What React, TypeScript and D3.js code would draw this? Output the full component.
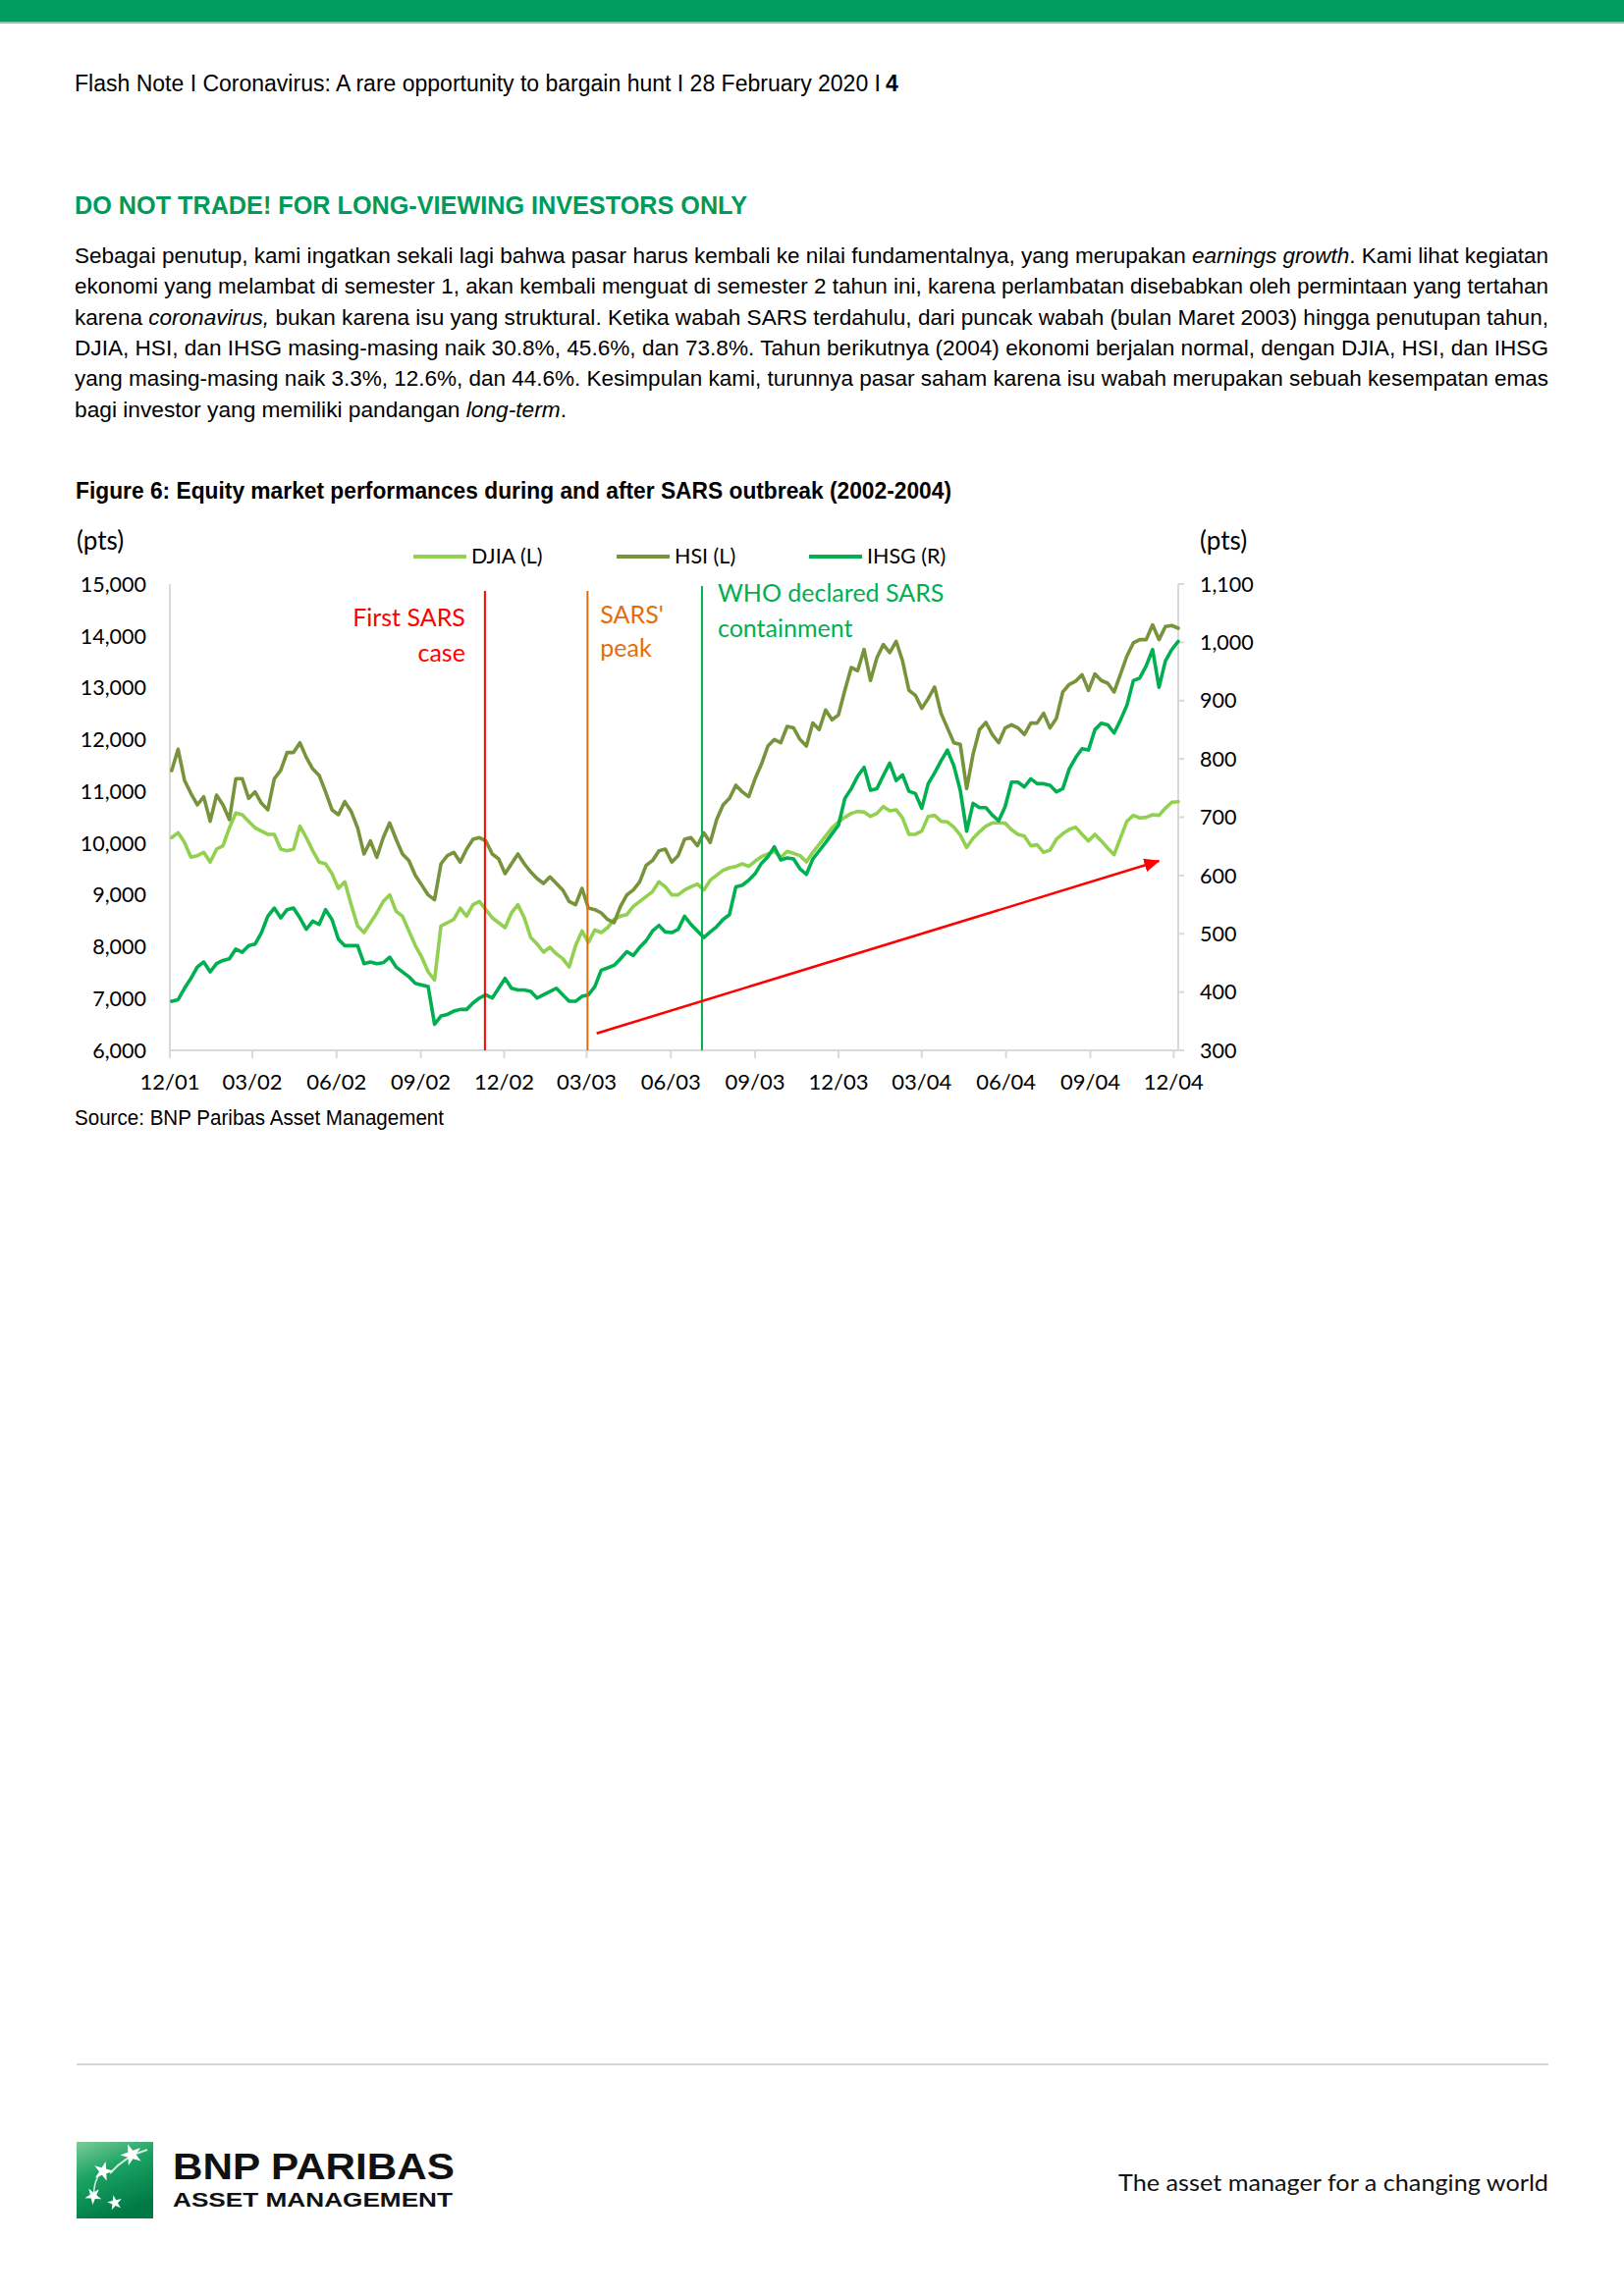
import React from 'react';
import * as d3 from 'd3';

// weekly observations, first one on Monday 3 Dec 2001
const firstWeek = new Date(2001, 11, 3);
const weeks = d3.range(158).map((i) => d3.timeDay.offset(firstWeek, 7 * i));

// DJIA (left axis, pts)
const djia = [
  10106, 10200, 10011, 9727, 9758, 9821, 9632, 9884, 9948, 10295,
  10579, 10548, 10421, 10295, 10232, 10169, 10169, 9884, 9853, 9884,
  10327, 10106, 9853, 9632, 9600, 9411, 9126, 9253, 8811, 8400,
  8274, 8463, 8653, 8874, 9000, 8684, 8589, 8305, 8021, 7800,
  7516, 7358, 8400, 8463, 8526, 8747, 8589, 8811, 8874, 8716,
  8558, 8463, 8368, 8653, 8811, 8558, 8179, 8053, 7895, 7989,
  7863, 7768, 7610, 8021, 8305, 8084, 8324, 8274, 8368, 8526,
  8589, 8621, 8779, 8874, 8969, 9063, 9253, 9158, 9000, 9000,
  9095, 9158, 9209, 9095, 9284, 9379, 9474, 9524, 9550, 9600,
  9550, 9651, 9739, 9790, 9840, 9727, 9840, 9802, 9758, 9638,
  9821, 9979, 10137, 10295, 10409, 10497, 10573, 10611, 10598, 10516,
  10573, 10706, 10624, 10643, 10485, 10169, 10169, 10232, 10516, 10535,
  10421, 10409, 10308, 10156, 9916, 10093, 10219, 10327, 10390, 10390,
  10384, 10257, 10169, 10137, 9948, 9967, 9821, 9866, 10074, 10181,
  10263, 10308, 10169, 10042, 10169, 10042, 9903, 9777, 10106, 10421,
  10535, 10485, 10497, 10548, 10535, 10674, 10788, 10800,
];

// HSI (left axis, pts)
const hsi = [
  11401, 11811, 11211, 10958, 10737, 10895, 10421, 10927, 10737, 10453,
  11243, 11243, 10864, 10990, 10769, 10643, 11243, 11401, 11748, 11748,
  11937, 11653, 11432, 11306, 10990, 10643, 10548, 10800, 10611, 10295,
  9790, 10042, 9727, 10106, 10390, 10074, 9790, 9663, 9379, 9190,
  9000, 8905, 9600, 9758, 9821, 9632, 9884, 10074, 10106, 10042,
  9790, 9695, 9411, 9600, 9790, 9600, 9442, 9316, 9221, 9348,
  9221, 9095, 8874, 8811, 9126, 8747, 8716, 8653, 8526, 8463,
  8779, 9000, 9095, 9253, 9569, 9663, 9853, 9884, 9632, 9758,
  10074, 10106, 9948, 10200, 10011, 10453, 10737, 10864, 11116, 10990,
  10895, 11243, 11527, 11874, 12001, 11937, 12253, 12222, 12001, 11874,
  12317, 12190, 12569, 12380, 12474, 12948, 13390, 13327, 13738, 13138,
  13580, 13833, 13675, 13896, 13517, 12948, 12853, 12601, 12790, 13011,
  12506, 12222, 11937, 11906, 11053, 11716, 12190, 12329, 12095, 11937,
  12222, 12285, 12222, 12095, 12317, 12317, 12506, 12222, 12411, 12917,
  13062, 13125, 13251, 12948, 13264, 13138, 13087, 12917, 13264, 13612,
  13864, 13927, 13927, 14212, 13927, 14180, 14199, 14148,
];

// IHSG (right axis, pts)
const ihsg = [
  384.1, 386.9, 406.5, 423.4, 443.0, 451.5, 434.6, 448.7, 454.3, 457.1,
  473.9, 468.3, 479.5, 482.3, 502.0, 530.1, 544.1, 527.3, 541.3, 544.1,
  527.3, 507.6, 521.6, 516.0, 541.3, 524.4, 490.8, 479.5, 479.5, 479.5,
  448.7, 451.5, 448.7, 450.3, 459.9, 443.0, 434.6, 426.2, 415.0, 412.2,
  409.4, 344.8, 358.8, 361.6, 367.3, 370.1, 370.1, 381.3, 389.7, 395.3,
  389.7, 406.5, 423.4, 406.5, 403.7, 403.7, 400.9, 389.7, 395.3, 400.9,
  406.5, 395.3, 384.1, 384.1, 392.5, 395.3, 409.4, 437.4, 441.4, 445.8,
  457.1, 469.4, 462.7, 476.7, 488.0, 504.8, 514.3, 503.1, 502.0, 507.6,
  530.1, 516.0, 504.8, 493.6, 503.1, 512.1, 524.4, 532.9, 580.6, 583.4,
  591.8, 603.0, 621.0, 632.2, 649.1, 626.6, 630.0, 628.3, 611.5, 601.9,
  628.3, 642.3, 656.4, 671.5, 686.1, 732.2, 749.0, 770.3, 785.5, 746.2,
  749.0, 771.5, 792.8, 763.0, 772.6, 744.5, 740.6, 715.3, 757.4, 776.0,
  796.7, 815.2, 788.3, 746.2, 676.0, 723.7, 716.4, 716.4, 703.5, 694.0,
  718.1, 760.2, 760.2, 751.8, 765.8, 757.4, 757.4, 754.6, 743.4, 749.0,
  782.7, 802.3, 817.5, 815.2, 850.1, 861.3, 858.5, 844.4, 866.9, 892.2,
  934.3, 938.8, 959.5, 987.6, 923.0, 967.9, 987.6, 1001.6,
];

const seriesNames = ['DJIA (L)', 'HSI (L)', 'IHSG (R)'];
const leftTicks = d3.range(6000, 15001, 1000);
const rightTicks = d3.range(300, 1101, 100);

const eventDates = ['2002-11-10', '2003-03-02', '2003-07-05'];
const eventLabels = [['First SARS', 'case'], ["SARS'", 'peak'], ['WHO declared SARS', 'containment']];

// trend arrow, right-axis values
const arrowFrom = { date: '2003-03-12', value: 329 };
const arrowTo = { date: '2004-11-15', value: 625 };

const paragraph = [
  [{ t: 'Sebagai penutup, kami ingatkan sekali lagi bahwa pasar harus kembali ke nilai fundamentalnya, yang merupakan ' }, { t: 'earnings growth', i: true }, { t: '. Kami lihat kegiatan' }],
  [{ t: 'ekonomi yang melambat di semester 1, akan kembali menguat di semester 2 tahun ini, karena perlambatan disebabkan oleh permintaan yang tertahan' }],
  [{ t: 'karena ' }, { t: 'coronavirus,', i: true }, { t: ' bukan karena isu yang struktural. Ketika wabah SARS terdahulu, dari puncak wabah (bulan Maret 2003) hingga penutupan tahun,' }],
  [{ t: 'DJIA, HSI, dan IHSG masing-masing naik 30.8%, 45.6%, dan 73.8%. Tahun berikutnya (2004) ekonomi berjalan normal, dengan DJIA, HSI, dan IHSG' }],
  [{ t: 'yang masing-masing naik 3.3%, 12.6%, dan 44.6%. Kesimpulan kami, turunnya pasar saham karena isu wabah merupakan sebuah kesempatan emas' }],
  [{ t: 'bagi investor yang memiliki pandangan ' }, { t: 'long-term', i: true }, { t: '.' }],
];

const W = 1654;
const H = 2339;
const bodyFont = "'Liberation Sans Narrow', 'Arial Narrow', 'Liberation Sans', Arial, sans-serif";
const chartFont = "Lato, Carlito, 'Noto Sans', sans-serif";
const colors = { djia: '#92d050', hsi: '#77933c', ihsg: '#00b050' };
const eventColors = ['#ff0000', '#e46c0a', '#00b050'];
const brandGreen = '#009b5f';

const App: React.FC = () => {
  const parse = d3.timeParse('%Y-%m-%d');
  const plot = { left: 173, right: 1200, top: 595, bottom: 1070 };

  const x = d3
    .scaleTime()
    .domain([new Date(2001, 11, 1), new Date(2004, 11, 6)])
    .range([plot.left, plot.right]);
  const yL = d3.scaleLinear().domain([6000, 15000]).range([plot.bottom, plot.top]);
  const yR = d3.scaleLinear().domain([300, 1100]).range([plot.bottom, plot.top]);

  const tickDates = d3.timeMonth.range(new Date(2001, 11, 1), new Date(2004, 11, 2), 3);
  const fmtMonth = d3.timeFormat('%m/%y');
  const fmtNum = d3.format(',');

  const lineL = d3
    .line<number>()
    .x((_, i) => x(weeks[i]))
    .y((d) => yL(d));
  const lineR = d3
    .line<number>()
    .x((_, i) => x(weeks[i]))
    .y((d) => yR(d));

  const series = [
    { d: lineL(djia), c: colors.djia },
    { d: lineL(hsi), c: colors.hsi },
    { d: lineR(ihsg), c: colors.ihsg },
  ];

  const legendX = [421, 628, 824];
  const legendColors = [colors.djia, colors.hsi, colors.ihsg];

  const ax1 = x(parse(arrowFrom.date) as Date);
  const ay1 = yR(arrowFrom.value);
  const ax2 = x(parse(arrowTo.date) as Date);
  const ay2 = yR(arrowTo.value);

  const star = d3.symbol().type(d3.symbolStar);

  return (
    <svg
      width={W}
      height={H}
      viewBox={`0 0 ${W} ${H}`}
      style={{ position: 'absolute', left: 0, top: 0, background: '#fff' }}
    >
      <defs>
        <marker id="arrowHead" viewBox="0 0 16 14" refX="15" refY="7" markerWidth="16" markerHeight="14" markerUnits="userSpaceOnUse" orient="auto">
          <path d="M0,0 L16,7 L0,14 Z" fill="#ff0000" />
        </marker>
        <linearGradient id="logoGrad" x1="0" y1="0" x2="0.4" y2="1">
          <stop offset="0" stopColor="#7fcb98" />
          <stop offset="0.45" stopColor="#1aa363" />
          <stop offset="1" stopColor="#007a45" />
        </linearGradient>
      </defs>
      <rect width={W} height={H} fill="#fff" />

      {/* top brand bar */}
      <rect x={0} y={0} width={W} height={22} fill={brandGreen} />
      <rect x={0} y={22} width={W} height={2} fill="#7fcaa6" />

      {/* running header */}
      <text x={76} y={93} fontFamily={bodyFont} fontSize={23} fill="#000" textLength={821} lengthAdjust="spacingAndGlyphs">
        Flash Note I Coronavirus: A rare opportunity to bargain hunt I 28 February 2020 I
      </text>
      <text x={902} y={93} fontFamily={bodyFont} fontSize={23} fontWeight="bold" fill="#000">
        4
      </text>

      {/* section heading */}
      <text x={76} y={218} fontFamily={bodyFont} fontSize={25} fontWeight="bold" fill="#009a5a" textLength={685} lengthAdjust="spacingAndGlyphs">
        DO NOT TRADE! FOR LONG-VIEWING INVESTORS ONLY
      </text>

      {/* body paragraph */}
      {paragraph.map((parts, li) => (
        <text
          key={li}
          x={76}
          y={268 + li * 31.3}
          fontFamily={bodyFont}
          fontSize={22}
          fill="#000"
          textLength={li === paragraph.length - 1 ? 501 : 1501}
          lengthAdjust="spacingAndGlyphs"
        >
          {parts.map((p, pi) => (
            <tspan key={pi} fontStyle={p.i ? 'italic' : 'normal'}>
              {p.t}
            </tspan>
          ))}
        </text>
      ))}

      {/* figure title */}
      <text x={77} y={508} fontFamily={bodyFont} fontSize={24} fontWeight="bold" fill="#000" textLength={892} lengthAdjust="spacingAndGlyphs">
        Figure 6: Equity market performances during and after SARS outbreak (2002-2004)
      </text>

      {/* chart */}
      <g fontFamily={chartFont} fill="#000">
        <text x={78} y={560} fontSize={26}>(pts)</text>
        <text x={1222} y={560} fontSize={26}>(pts)</text>

        {/* legend */}
        {seriesNames.map((n, i) => (
          <g key={n}>
            <line x1={legendX[i]} x2={legendX[i] + 54} y1={567} y2={567} stroke={legendColors[i]} strokeWidth={4} />
            <text x={legendX[i] + 59} y={574} fontSize={21.5}>{n}</text>
          </g>
        ))}

        {/* axes */}
        <line x1={plot.left} x2={plot.left} y1={plot.top} y2={plot.bottom} stroke="#d9d9d9" strokeWidth={2} />
        <line x1={plot.right} x2={plot.right} y1={plot.top} y2={plot.bottom} stroke="#d9d9d9" strokeWidth={2} />
        <line x1={plot.left} x2={plot.right} y1={plot.bottom} y2={plot.bottom} stroke="#d9d9d9" strokeWidth={2} />
        {tickDates.map((t) => (
          <g key={+t}>
            <line x1={x(t)} x2={x(t)} y1={plot.bottom} y2={plot.bottom + 8} stroke="#d9d9d9" strokeWidth={2} />
            <text x={x(t)} y={1110} fontSize={22} textAnchor="middle">{fmtMonth(t)}</text>
          </g>
        ))}
        {leftTicks.map((v) => (
          <text key={v} x={149} y={yL(v)} dy="0.36em" fontSize={21.5} textAnchor="end">{fmtNum(v)}</text>
        ))}
        {rightTicks.map((v) => (
          <g key={v}>
            <line x1={plot.right} x2={plot.right + 6} y1={yR(v)} y2={yR(v)} stroke="#d9d9d9" strokeWidth={2} />
            <text x={1222} y={yR(v)} dy="0.36em" fontSize={21.5}>{fmtNum(v)}</text>
          </g>
        ))}

        {/* series */}
        {series.map((s, i) => (
          <path key={i} d={s.d || ''} fill="none" stroke={s.c} strokeWidth={3.6} strokeLinejoin="round" strokeLinecap="round" />
        ))}

        {/* event lines and labels */}
        {eventDates.map((ds, i) => {
          const ex = x(parse(ds) as Date);
          const top = i === 2 ? 597 : 602;
          const labelX = i === 0 ? ex - 20 : i === 1 ? ex + 13 : ex + 16;
          const base = i === 0 ? 638 : i === 1 ? 635 : 613;
          const gap = i === 1 ? 34 : 35.5;
          return (
            <g key={ds}>
              <line x1={ex} x2={ex} y1={top} y2={plot.bottom} stroke={eventColors[i]} strokeWidth={2} />
              {eventLabels[i].map((l, j) => (
                <text key={l} x={labelX} y={base + j * gap} fontSize={25} fill={eventColors[i]} textAnchor={i === 0 ? 'end' : 'start'}>
                  {l}
                </text>
              ))}
            </g>
          );
        })}

        {/* trend arrow */}
        <line x1={ax1} y1={ay1} x2={ax2} y2={ay2} stroke="#ff0000" strokeWidth={2.5} markerEnd="url(#arrowHead)" />
      </g>

      {/* source */}
      <text x={76} y={1146} fontFamily={bodyFont} fontSize={22} fill="#000" textLength={376} lengthAdjust="spacingAndGlyphs">
        Source: BNP Paribas Asset Management
      </text>

      {/* footer */}
      <line x1={78} x2={1577} y1={2103} y2={2103} stroke="#c8c8c8" strokeWidth={1.5} />
      <rect x={78} y={2182} width={78} height={78} fill="url(#logoGrad)" />
      {[
        [134, 2195, 150, -20],
        [105, 2212, 120, 15],
        [95, 2237, 90, 40],
        [117, 2244, 70, 60],
      ].map(([sx, sy, sz, rot], i) => (
        <path key={i} d={star.size(sz)() || ''} transform={`translate(${sx},${sy}) rotate(${rot})`} fill="#fff" />
      ))}
      <path d="M112,2214 Q128,2196 150,2190" fill="none" stroke="#fff" strokeWidth={2} opacity={0.8} />
      <path d="M96,2240 Q94,2222 104,2212" fill="none" stroke="#fff" strokeWidth={1.5} opacity={0.8} />
      <text x={176} y={2220} fontFamily={bodyFont} fontSize={37} fontWeight="bold" fill="#111" textLength={287} lengthAdjust="spacingAndGlyphs">
        BNP PARIBAS
      </text>
      <text x={176} y={2248} fontFamily={bodyFont} fontSize={21} fontWeight="bold" fill="#111" textLength={285} lengthAdjust="spacingAndGlyphs">
        ASSET MANAGEMENT
      </text>
      <text x={1139} y={2232} fontFamily={chartFont} fontSize={24} fill="#111" textLength={438} lengthAdjust="spacingAndGlyphs">
        The asset manager for a changing world
      </text>
    </svg>
  );
};

export default App;
